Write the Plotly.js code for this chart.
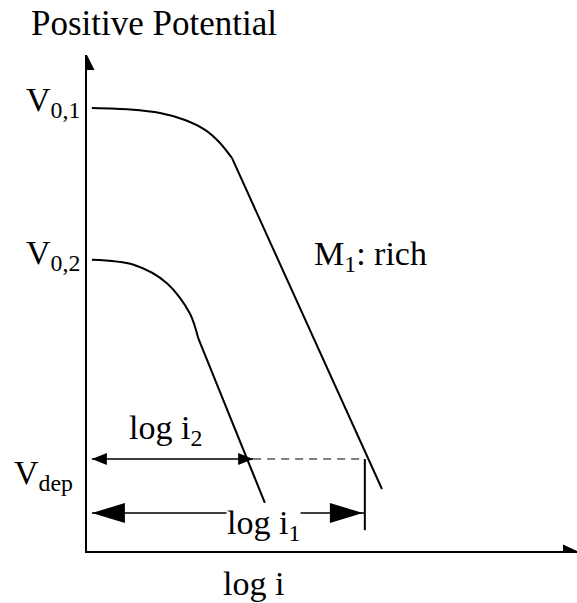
<!DOCTYPE html>
<html>
<head>
<meta charset="utf-8">
<script src="https://cdn.plot.ly/plotly-3.0.1.min.js"></script>
</head>
<body style="margin:0">
<div id="plot" style="width:577px;height:603px"></div>
<script>
// Polarisation curves: potential vs log current (schematic units)
const curve1X = [0.10, 0.88, 1.49, 2.00, 2.41, 2.71, 2.96, 6.02];
const curve1Y = [8.93, 8.90, 8.83, 8.69, 8.49, 8.23, 7.92, 1.25];
const curve1Knee = 6;

const curve2X = [0.10, 0.95, 1.63, 2.10, 2.27, 3.63];
const curve2Y = [5.87, 5.77, 5.40, 4.79, 4.29, 0.97];
const curve2Knee = 4;

const V01 = 8.93;
const V02 = 5.87;
const Vdep = 1.855;
const logI1 = 5.67;
const logI2 = 3.39;
const logI1ArrowY = 0.766;
const logI1TickBottom = 0.42;
const arrowStart = 0.10;

const labels = {
  yTitle: 'Positive Potential',
  xTitle: 'log i',
  v01: 'V<sub>0,1</sub>',
  v02: 'V<sub>0,2</sub>',
  vdep: 'V<sub>dep</sub>',
  m1: 'M<sub>1</sub>: rich',
  li1: 'log i<sub>1</sub>',
  li2: 'log i<sub>2</sub>'
};

const W = 577, H = 603;
const M = { l: 87, r: 0, t: 55, b: 52 };
const XR = [0, 10], YR = [0, 10];
const sx = (W - M.l - M.r) / (XR[1] - XR[0]);
const sy = (H - M.t - M.b) / (YR[1] - YR[0]);

// filled triangular arrow head; direction given in screen pixels
function head(tx, ty, dx, dy, len, wid) {
  const n = Math.hypot(dx, dy); dx /= n; dy /= n;
  const px = -dy, py = dx;
  const pt = (ox, oy) => [tx + ox / sx, ty - oy / sy];
  const a = pt(0, 0);
  const b = pt(-dx * len + px * wid / 2, -dy * len + py * wid / 2);
  const c = pt(-dx * len - px * wid / 2, -dy * len - py * wid / 2);
  return {
    type: 'path', xref: 'x', yref: 'y',
    path: `M${a[0]},${a[1]} L${b[0]},${b[1]} L${c[0]},${c[1]} Z`,
    fillcolor: '#000', line: { width: 0 }, layer: 'above'
  };
}

function serif(size) {
  return { family: 'Liberation Serif', size: size };
}

const ink = () => ({ color: '#000', width: 2 });
const traces = [
  { x: curve1X.slice(0, curve1Knee + 1), y: curve1Y.slice(0, curve1Knee + 1),
    mode: 'lines', line: Object.assign({ shape: 'spline', smoothing: 0.8 }, ink()) },
  { x: curve1X.slice(curve1Knee), y: curve1Y.slice(curve1Knee), mode: 'lines', line: ink() },
  { x: curve2X.slice(0, curve2Knee + 1), y: curve2Y.slice(0, curve2Knee + 1),
    mode: 'lines', line: Object.assign({ shape: 'spline', smoothing: 0.9 }, ink()) },
  { x: curve2X.slice(curve2Knee), y: curve2Y.slice(curve2Knee), mode: 'lines', line: ink() },
  // log i2 span
  { x: [arrowStart, logI2], y: [Vdep, Vdep], mode: 'lines', line: { color: '#000', width: 1.5 } },
  // continuation to the M1 line
  { x: [logI2, logI1], y: [Vdep, Vdep], mode: 'lines', line: { color: '#000', width: 1, dash: '8px,6px' } },
  // log i1 span
  { x: [arrowStart, logI1], y: [logI1ArrowY, logI1ArrowY], mode: 'lines', line: { color: '#000', width: 1.5 } },
  // end marker at log i1
  { x: [logI1, logI1], y: [Vdep, logI1TickBottom], mode: 'lines', line: { color: '#000', width: 2 } }
];

const shapes = [
  head(XR[0], YR[1], 0, -1, 15, 15),
  head(XR[1], YR[0], 1, 0, 14, 13),
  head(arrowStart, Vdep, -1, 0, 15, 12),
  head(logI2, Vdep, 1, 0, 15, 12),
  head(arrowStart, logI1ArrowY, -1, 0, 33, 20),
  head(logI1 - 0.04, logI1ArrowY, 1, 0, 33, 20)
];

const annotations = [
  { text: labels.yTitle, xref: 'paper', yref: 'paper', x: 0, y: 1, xanchor: 'left', yanchor: 'bottom',
    xshift: -58, yshift: 10, showarrow: false, font: serif(35) },
  { text: labels.xTitle, xref: 'x', yref: 'paper', x: 3.40, y: 0, xanchor: 'center', yanchor: 'top',
    yshift: -12, showarrow: false, font: serif(34) },
  { text: labels.v01, xref: 'paper', yref: 'y', x: 0, y: V01, xanchor: 'right', yanchor: 'middle',
    xshift: -5, yshift: 6, showarrow: false, font: serif(34) },
  { text: labels.v02, xref: 'paper', yref: 'y', x: 0, y: V02, xanchor: 'right', yanchor: 'middle',
    xshift: -5, yshift: 5, showarrow: false, font: serif(34) },
  { text: labels.vdep, xref: 'paper', yref: 'y', x: 0, y: Vdep, xanchor: 'right', yanchor: 'middle',
    xshift: -12, yshift: -16, showarrow: false, font: serif(34) },
  { text: labels.m1, xref: 'x', yref: 'y', x: 4.6, y: 5.95, xanchor: 'left', yanchor: 'middle',
    showarrow: false, font: serif(34) },
  { text: labels.li2, xref: 'x', yref: 'y', x: 1.6, y: Vdep, xanchor: 'center', yanchor: 'bottom',
    yshift: 6, showarrow: false, font: serif(34) },
  { text: labels.li1, xref: 'x', yref: 'y', x: 3.6, y: logI1ArrowY, xanchor: 'center', yanchor: 'middle',
    yshift: -12, showarrow: false, font: serif(34), bgcolor: '#fff', borderpad: 0 }
];

const layout = {
  width: W, height: H, margin: M,
  paper_bgcolor: '#fff', plot_bgcolor: '#fff',
  showlegend: false,
  font: { family: 'Liberation Serif', color: '#000' },
  xaxis: { range: XR, showgrid: false, zeroline: false, showticklabels: false, ticks: '',
           showline: true, linecolor: '#000', linewidth: 2, fixedrange: true },
  yaxis: { range: YR, showgrid: false, zeroline: false, showticklabels: false, ticks: '',
           showline: true, linecolor: '#000', linewidth: 2, fixedrange: true },
  shapes: shapes,
  annotations: annotations
};

Plotly.newPlot('plot', traces, layout, { displayModeBar: false });
</script>
</body>
</html>
